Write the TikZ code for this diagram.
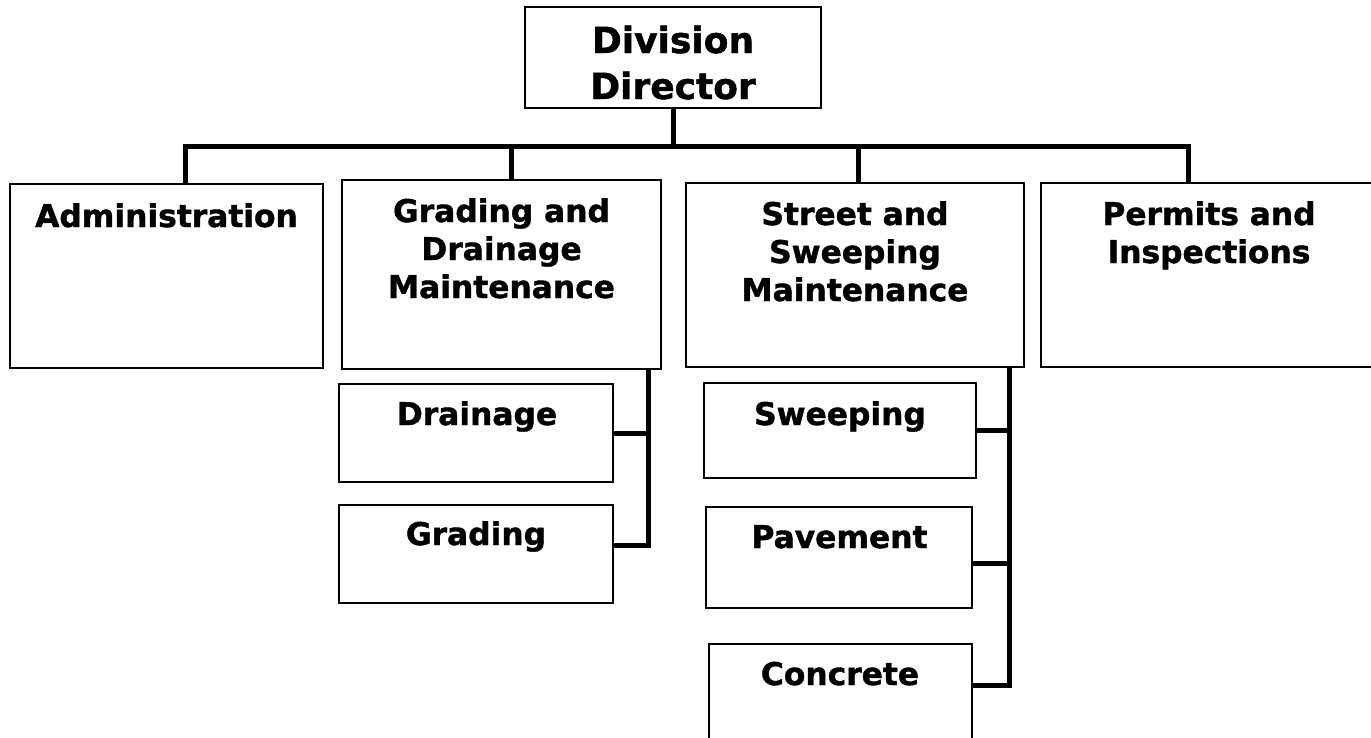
\documentclass[tikz,border=0pt]{standalone}
\usepackage{fontspec}
\setmainfont[BoldFeatures={FakeBold=1.3}]{DejaVu Sans}
\begin{document}
\begin{tikzpicture}[x=1pt,y=-1pt,
  box/.style={draw, line width=1.8pt, rectangle, inner sep=0pt},
  lbl/.style={font=\bfseries\fontsize{31.3}{38}\selectfont, align=center, anchor=base, inner sep=0pt},
  biglbl/.style={font=\bfseries\fontsize{36}{46}\selectfont, align=center, anchor=base, inner sep=0pt},
  conn/.style={line width=5pt}]
\useasboundingbox (0,0) rectangle (1371,737);
\clip (0,0) rectangle (1371,737);
\fill[white] (0,0) rectangle (1371,737);

% boxes
\node[box, minimum width=296pt, minimum height=101pt] (dir) at (673,57.5) {};
\node[box, minimum width=313pt, minimum height=184pt] (adm) at (166.5,276) {};
\node[box, minimum width=319pt, minimum height=189pt] (grd) at (501.5,274.5) {};
\node[box, minimum width=338pt, minimum height=184pt] (str) at (855,275) {};
\node[box, minimum width=339pt, minimum height=184pt] (per) at (1210.5,275) {};
\node[box, minimum width=274pt, minimum height=98pt] (drn) at (476,433) {};
\node[box, minimum width=274pt, minimum height=98pt] (grs) at (476,554) {};
\node[box, minimum width=272pt, minimum height=95pt] (swp) at (840,430.5) {};
\node[box, minimum width=266pt, minimum height=101pt] (pav) at (839,557.5) {};
\node[box, minimum width=263pt, minimum height=106pt] (cnc) at (840.5,697) {};

% labels (anchor=base is the baseline of the last line)
\node[biglbl] (dir-t) at (673,99) {Division\\Director};
\node[lbl] (adm-t) at (166.5,227) {Administration};
\node[lbl] (grd-t) at (501.5,298) {Grading and\\Drainage\\Maintenance};
\node[lbl] (str-t) at (855,301) {Street and\\Sweeping\\Maintenance};
\node[lbl] (per-t) at (1209,263) {Permits and\\Inspections};
\node[lbl] (drn-t) at (477,425) {Drainage};
\node[lbl] (grs-t) at (476,545) {Grading};
\node[lbl] (swp-t) at (840,425) {Sweeping};
\node[lbl] (pav-t) at (839.5,548) {Pavement};
\node[lbl] (cnc-t) at (840,685) {Concrete};

% top-level connectors
\coordinate (busL) at (185,146);
\coordinate (busR) at (1188,146);
\coordinate (dG) at (511,146);
\coordinate (dS) at (858,146);
\draw[conn] (dir.south) -- (dir.south |- busL);
\draw[conn] (adm.north -| busL) -- (busL) -- (busR) -- (busR |- per.north);
\draw[conn] (dG) -- (dG |- grd.north);
\draw[conn] (dS) -- (dS |- str.north);

% grading and drainage sub-units
\coordinate (vG) at (648,545);
\draw[conn] (grd.south -| vG) -- (vG) -- (vG -| grs.east);
\draw[conn] (drn.east) -- (drn.east -| vG);

% street and sweeping sub-units
\coordinate (vS) at (1009,685);
\coordinate (pv) at (1009,563);
\draw[conn] (str.south -| vS) -- (vS) -- (vS -| cnc.east);
\draw[conn] (swp.east) -- (swp.east -| vS);
\draw[conn] (pv) -- (pv -| pav.east);
\end{tikzpicture}
\end{document}
